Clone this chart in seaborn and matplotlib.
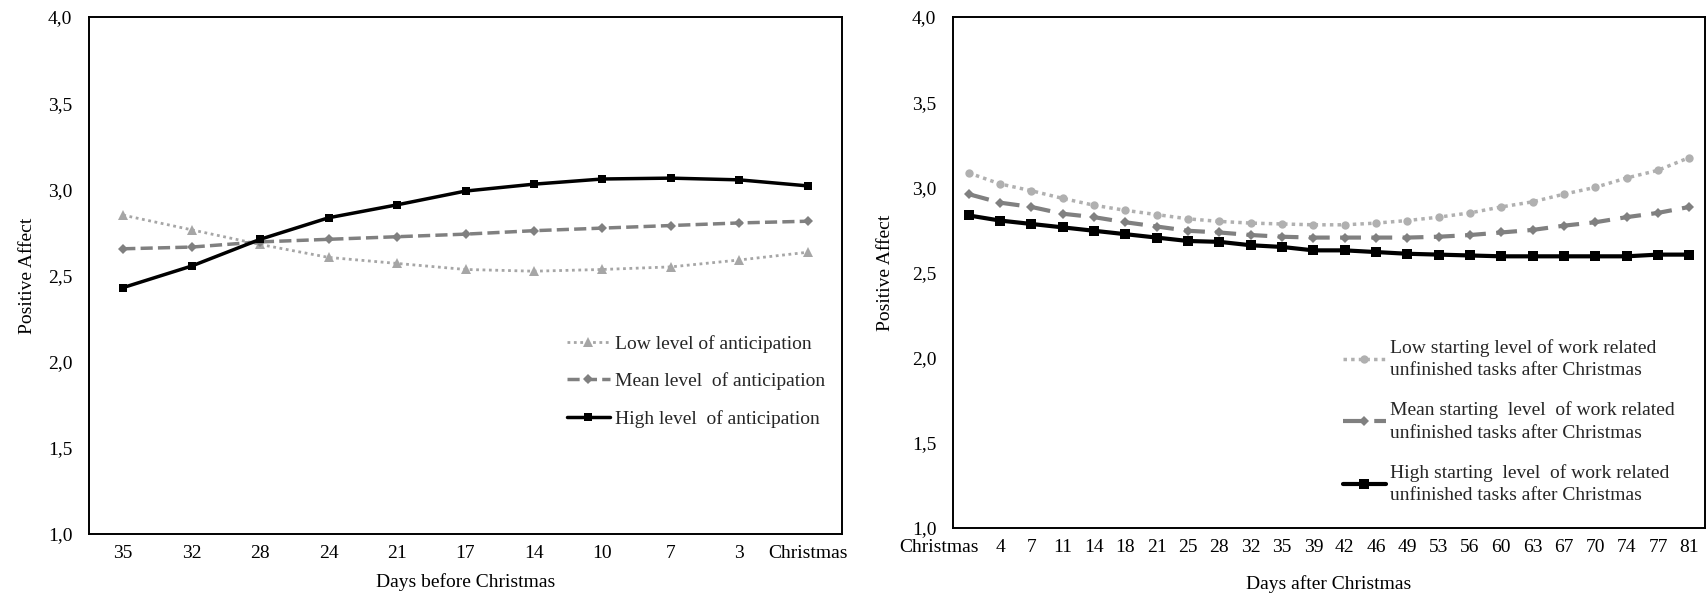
import pandas as pd
import matplotlib.pyplot as plt
import seaborn as sns
from matplotlib.ticker import FuncFormatter, MultipleLocator
from matplotlib.transforms import ScaledTranslation

# --- dados ---
dias_antes = ['35', '32', '28', '24', '21', '17', '14', '10', '7', '3', 'Christmas']
antes_low = [2.85, 2.765, 2.68, 2.605, 2.57, 2.535, 2.525, 2.535, 2.55, 2.59, 2.635]
antes_mean = [2.655, 2.665, 2.695, 2.71, 2.725, 2.74, 2.76, 2.775, 2.79, 2.805, 2.815]
antes_high = [2.43, 2.555, 2.71, 2.835, 2.91, 2.99, 3.03, 3.06, 3.065, 3.055, 3.02]

dias_depois = ['Christmas', '4', '7', '11', '14', '18', '21', '25', '28', '32', '35', '39',
               '42', '46', '49', '53', '56', '60', '63', '67', '70', '74', '77', '81']
depois_low = [3.085, 3.02, 2.98, 2.935, 2.895, 2.865, 2.84, 2.815, 2.80, 2.79, 2.785, 2.78,
              2.78, 2.79, 2.805, 2.825, 2.85, 2.885, 2.915, 2.96, 3.00, 3.055, 3.10, 3.175]
depois_mean = [2.96, 2.91, 2.885, 2.845, 2.825, 2.795, 2.77, 2.745, 2.735, 2.72, 2.71, 2.705,
               2.705, 2.705, 2.705, 2.71, 2.72, 2.735, 2.75, 2.775, 2.795, 2.825, 2.85, 2.885]
depois_high = [2.835, 2.805, 2.785, 2.765, 2.745, 2.725, 2.705, 2.685, 2.68, 2.66, 2.65, 2.63,
               2.63, 2.62, 2.61, 2.605, 2.60, 2.595, 2.595, 2.595, 2.595, 2.595, 2.605, 2.605]

legenda_antes = ['Low level of anticipation', 'Mean level  of anticipation', 'High level  of anticipation']
legenda_depois = ['Low starting level of work related\nunfinished tasks after Christmas',
                  'Mean starting  level  of work related\nunfinished tasks after Christmas',
                  'High starting  level  of work related\nunfinished tasks after Christmas']

# --- visual ---
sns.set_theme(style="white")
plt.rcParams['font.family'] = ['Liberation Serif', 'DejaVu Serif']
plt.rcParams['font.size'] = 14

fig = plt.figure(figsize=(17.07, 5.97), dpi=100)
ax1 = fig.add_axes([89 / 1707, 63 / 597, 753 / 1707, 517 / 597])
ax2 = fig.add_axes([953 / 1707, 69 / 597, 752 / 1707, 511 / 597])

# painel esquerdo
sns.lineplot(x=dias_antes, y=antes_low, ax=ax1, sort=False, color='#a6a6a6', linewidth=2,
             linestyle=(0, (1, 1.3)), marker='^', markersize=7, markeredgewidth=0,
             label=legenda_antes[0])
sns.lineplot(x=dias_antes, y=antes_mean, ax=ax1, sort=False, color='#808080', linewidth=2.5,
             linestyle=(0, (3.5, 1.5)), marker='D', markersize=5, markeredgewidth=0,
             label=legenda_antes[1])
sns.lineplot(x=dias_antes, y=antes_high, ax=ax1, sort=False, color='black', linewidth=2.5,
             marker='s', markersize=6, markeredgewidth=0, label=legenda_antes[2])

# painel direito
sns.lineplot(x=dias_depois, y=depois_low, ax=ax2, sort=False, color='#b0b0b0', linewidth=2.5,
             linestyle=(0, (1, 1.2)), marker='o', markersize=6, markeredgewidth=0,
             label=legenda_depois[0])
sns.lineplot(x=dias_depois, y=depois_mean, ax=ax2, sort=False, color='#808080', linewidth=3,
             linestyle=(0, (5, 2.5)), marker='D', markersize=5, markeredgewidth=0,
             label=legenda_depois[1])
sns.lineplot(x=dias_depois, y=depois_high, ax=ax2, sort=False, color='black', linewidth=3,
             marker='s', markersize=7, markeredgewidth=0, label=legenda_depois[2])

fmt = FuncFormatter(lambda v, p: f'{v:.1f}'.replace('.', ','))
for ax, n in [(ax1, len(dias_antes)), (ax2, len(dias_depois))]:
    ax.set_ylim(1.0, 4.0)
    ax.set_xlim(-0.5, n - 0.5)
    ax.yaxis.set_major_locator(MultipleLocator(0.5))
    ax.yaxis.set_major_formatter(fmt)
    ax.tick_params(axis='both', length=0, labelsize=14, colors='black')
    ax.tick_params(axis='y', pad=12)
    ax.tick_params(axis='x', pad=8)
    ax.grid(False)
    for s in ax.spines.values():
        s.set_color('black')
        s.set_linewidth(1.4)
    ax.set_ylabel('Positive Affect', fontsize=14, color='black')

ax1.yaxis.set_label_coords(-0.070, 0.5)
ax2.yaxis.set_label_coords(-0.078, 0.5)

ax1.set_xlabel('Days before Christmas', fontsize=14, color='black', labelpad=8)
ax2.set_xlabel('Days after Christmas', fontsize=14, color='black', labelpad=14)

# rótulo "Christmas" do painel direito deslocado para a esquerda
lbl = ax2.get_xticklabels()[0]
lbl.set_transform(lbl.get_transform() + ScaledTranslation(-0.30, 0, fig.dpi_scale_trans))

ax1.legend(loc='upper left', bbox_to_anchor=(567 / 1707, (597 - 335) / 597),
           bbox_transform=fig.transFigure, frameon=False, fontsize=14,
           handlelength=2.2, handletextpad=0.25, labelspacing=1.0,
           borderpad=0, borderaxespad=0)
leg2 = ax2.legend(loc='upper left', bbox_to_anchor=(1343 / 1707, (597 - 339) / 597),
                  bbox_transform=fig.transFigure, frameon=False, fontsize=14,
                  handlelength=2.2, handletextpad=0.2, labelspacing=1.15,
                  borderpad=0, borderaxespad=0)
for t in leg2.get_texts():
    t.set_linespacing(1.4)

plt.savefig('out.png', dpi=100)
print("Gráfico salvo: out.png")
